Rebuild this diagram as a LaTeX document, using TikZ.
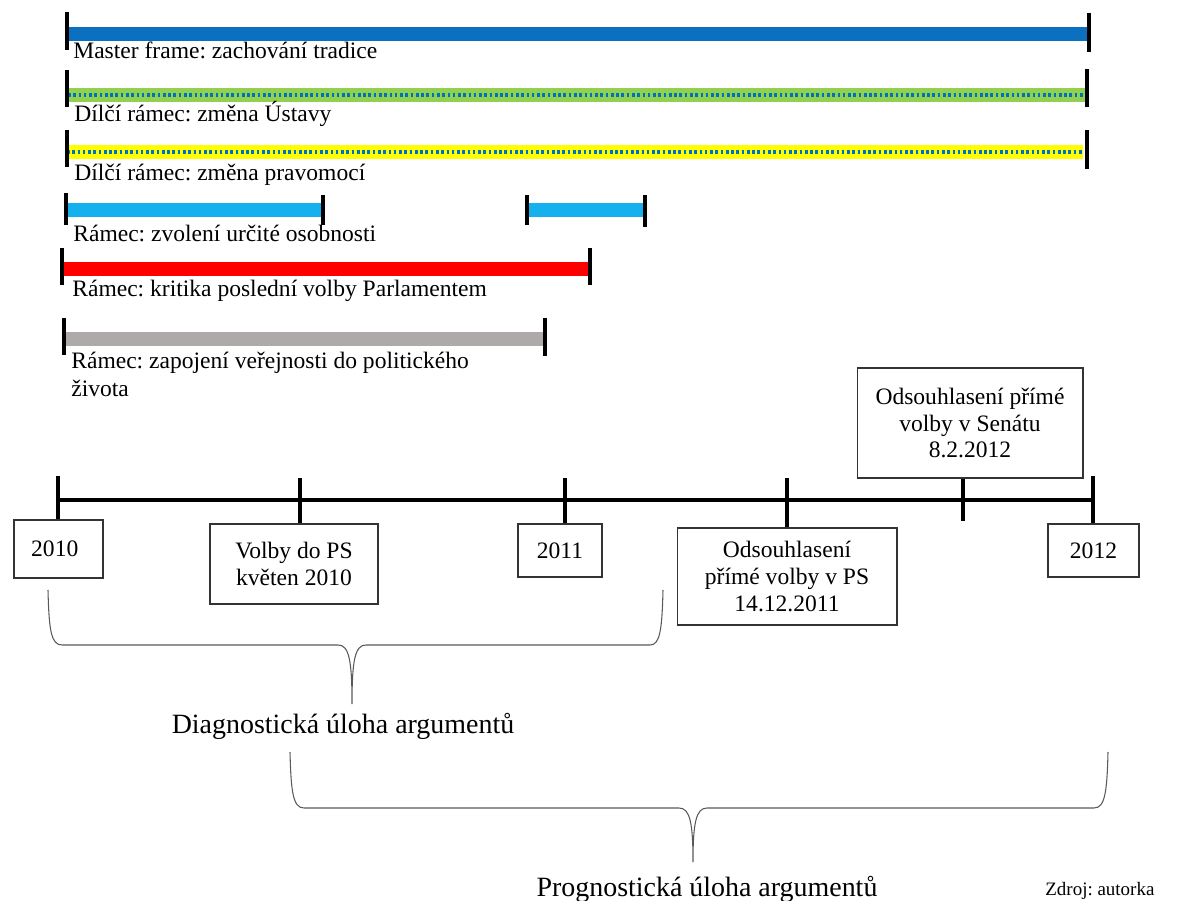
\documentclass[tikz,border=0pt]{standalone}
\usepackage{fontspec}
\setmainfont{Liberation Serif}
\usetikzlibrary{positioning}
\frenchspacing

\definecolor{mfblue}{HTML}{0B70C0}
\definecolor{dotblue}{HTML}{0070C0}
\definecolor{rgreen}{HTML}{92D050}
\definecolor{ryellow}{HTML}{FFFF00}
\definecolor{rcyan}{HTML}{15B0EE}
\definecolor{rred}{HTML}{FF0000}
\definecolor{rgray}{HTML}{AEAAAA}

\begin{document}
\begin{tikzpicture}[x=0.02cm,y=-0.02cm,font=\fontsize{13.4}{15.2}\selectfont]
  \tikzstyle{bar}=[line width=0.28cm]
  \tikzstyle{dots}=[dotblue,line width=1.9pt,dash pattern=on 1.5pt off 1.5pt]
  \tikzstyle{tick}=[black,line width=2pt]
  \tikzstyle{axis}=[black,line width=2.1pt]
  \tikzstyle{frametext}=[anchor=base west,inner sep=0pt,align=left]
  \tikzstyle{event}=[draw=black!80,line width=0.6pt,align=center,inner sep=0pt]
  \tikzstyle{brace}=[black!65,line width=0.6pt]
  \tikzstyle{task}=[font=\fontsize{15.9}{18}\selectfont,anchor=base,inner sep=0pt]

  \useasboundingbox (0,0) rectangle (1186,901);

  % ramce
  \coordinate (mf0) at (68,34);   \coordinate (mf1) at (1088,34);
  \coordinate (us0) at (68,95);   \coordinate (us1) at (1085,95);
  \coordinate (pr0) at (67,152);  \coordinate (pr1) at (1083,152);
  \coordinate (os0) at (68,210);  \coordinate (os1) at (323,210);
  \coordinate (os2) at (527,210); \coordinate (os3) at (644,210);
  \coordinate (kr0) at (63,269);  \coordinate (kr1) at (590,269);
  \coordinate (ve0) at (65,339);  \coordinate (ve1) at (545,339);

  \draw[bar,mfblue] (mf0) -- (mf1);
  \draw[bar,rgreen] (us0) -- (us1);
  \draw[dots] (us0) -- (us1);
  \draw[bar,ryellow] (pr0) -- (pr1);
  \draw[dots] (pr0) -- (pr1);
  \draw[bar,rcyan] (os0) -- (os1);
  \draw[bar,rcyan] (os2) -- (os3);
  \draw[bar,rred] (kr0) -- (kr1);
  \draw[bar,rgray] (ve0) -- (ve1);

  \draw[tick] (67,12) -- (67,50);     \draw[tick] (1089,13) -- (1089,52);
  \draw[tick] (67,70) -- (67,107);    \draw[tick] (1087,69) -- (1087,107);
  \draw[tick] (67,130) -- (67,167);   \draw[tick] (1087,130) -- (1087,169);
  \draw[tick] (66,193) -- (66,225);   \draw[tick] (323,195) -- (323,225);
  \draw[tick] (527,195) -- (527,225); \draw[tick] (645,195) -- (645,227);
  \draw[tick] (62,248) -- (62,285);   \draw[tick] (590,248) -- (590,285);
  \draw[tick] (64,318) -- (64,355);   \draw[tick] (545,318) -- (545,356);

  \node[frametext] (mft) at (73,59)  {Master frame: zachování tradice};
  \node[frametext] (ust) at (74,122) {Dílčí rámec: změna Ústavy};
  \node[frametext] (prt) at (74,181) {Dílčí rámec: změna pravomocí};
  \node[frametext] (ost) at (73,242) {Rámec: zvolení určité osobnosti};
  \node[frametext] (krt) at (72,297) {Rámec: kritika poslední volby Parlamentem};
  \node[frametext,font=\fontsize{13.4}{16.4}\selectfont] (vet) at (71,397)
    {Rámec: zapojení veřejnosti do politického\\života};

  % casova osa
  \coordinate (ax0) at (58,500); \coordinate (ax1) at (1093,500);
  \draw[axis] (ax0) -- (ax1);

  \node[event,minimum width=1.78cm,minimum height=1.16cm] (y2010) at (58.5,549) {2010\hspace{0.15cm}};
  \node[event,minimum width=3.36cm,minimum height=1.6cm] (volby) at (294,564) {Volby do PS\\květen 2010};
  \node[event,minimum width=1.68cm,minimum height=1.06cm] (y2011) at (560,550.5) {2011};
  \node[event,minimum width=4.4cm,minimum height=1.94cm] (ps) at (787,576.5) {Odsouhlasení\\přímé volby v PS\\14.12.2011};
  \node[event,minimum width=4.52cm,minimum height=2.2cm] (senat) at (970,423) {Odsouhlasení přímé\\volby v Senátu\\8.2.2012};
  \node[event,minimum width=1.82cm,minimum height=1.06cm] (y2012) at (1093.5,550.5) {2012};

  \coordinate (tk0) at (58,476);  \coordinate (tk1) at (300,478);
  \coordinate (tk2) at (565,478); \coordinate (tk3) at (787,478);
  \coordinate (tk4) at (963,521); \coordinate (tk5) at (1093,476);
  \draw[tick] (tk0) -- (y2010.north -| tk0);
  \draw[tick] (tk1) -- (volby.north -| tk1);
  \draw[tick] (tk2) -- (y2011.north -| tk2);
  \draw[tick] (tk3) -- (ps.north -| tk3);
  \draw[tick] (senat.south -| tk4) -- (tk4);
  \draw[tick] (tk5) -- (y2012.north -| tk5);

  % zavorky
  \coordinate (dg0) at (48,590); \coordinate (dg1) at (663,590);
  \coordinate (dgtip) at (352,704);
  \draw[brace] (dg0) .. controls (49,630) and (51,645) .. (62,645) -- (338,645)
    .. controls (349,645) and (352,660) .. (dgtip)
    .. controls (352,660) and (355,645) .. (366,645) -- (650,645)
    .. controls (660,645) and (662,630) .. (dg1);
  \node[task] (dgt) at (343,733) {Diagnostická úloha argumentů};

  \coordinate (pg0) at (290,752); \coordinate (pg1) at (1108,752);
  \coordinate (pgtip) at (693,862);
  \draw[brace] (pg0) .. controls (291,792) and (293,808) .. (304,808) -- (679,808)
    .. controls (690,808) and (693,823) .. (pgtip)
    .. controls (693,823) and (696,808) .. (707,808) -- (1094,808)
    .. controls (1105,808) and (1107,792) .. (pg1);
  \node[task] (pgt) at (707,896) {Prognostická úloha argumentů};

  \node[anchor=base west,inner sep=0pt,font=\fontsize{10.8}{13}\selectfont] (zdroj) at (1045,895) {Zdroj: autorka};
\end{tikzpicture}
\end{document}
